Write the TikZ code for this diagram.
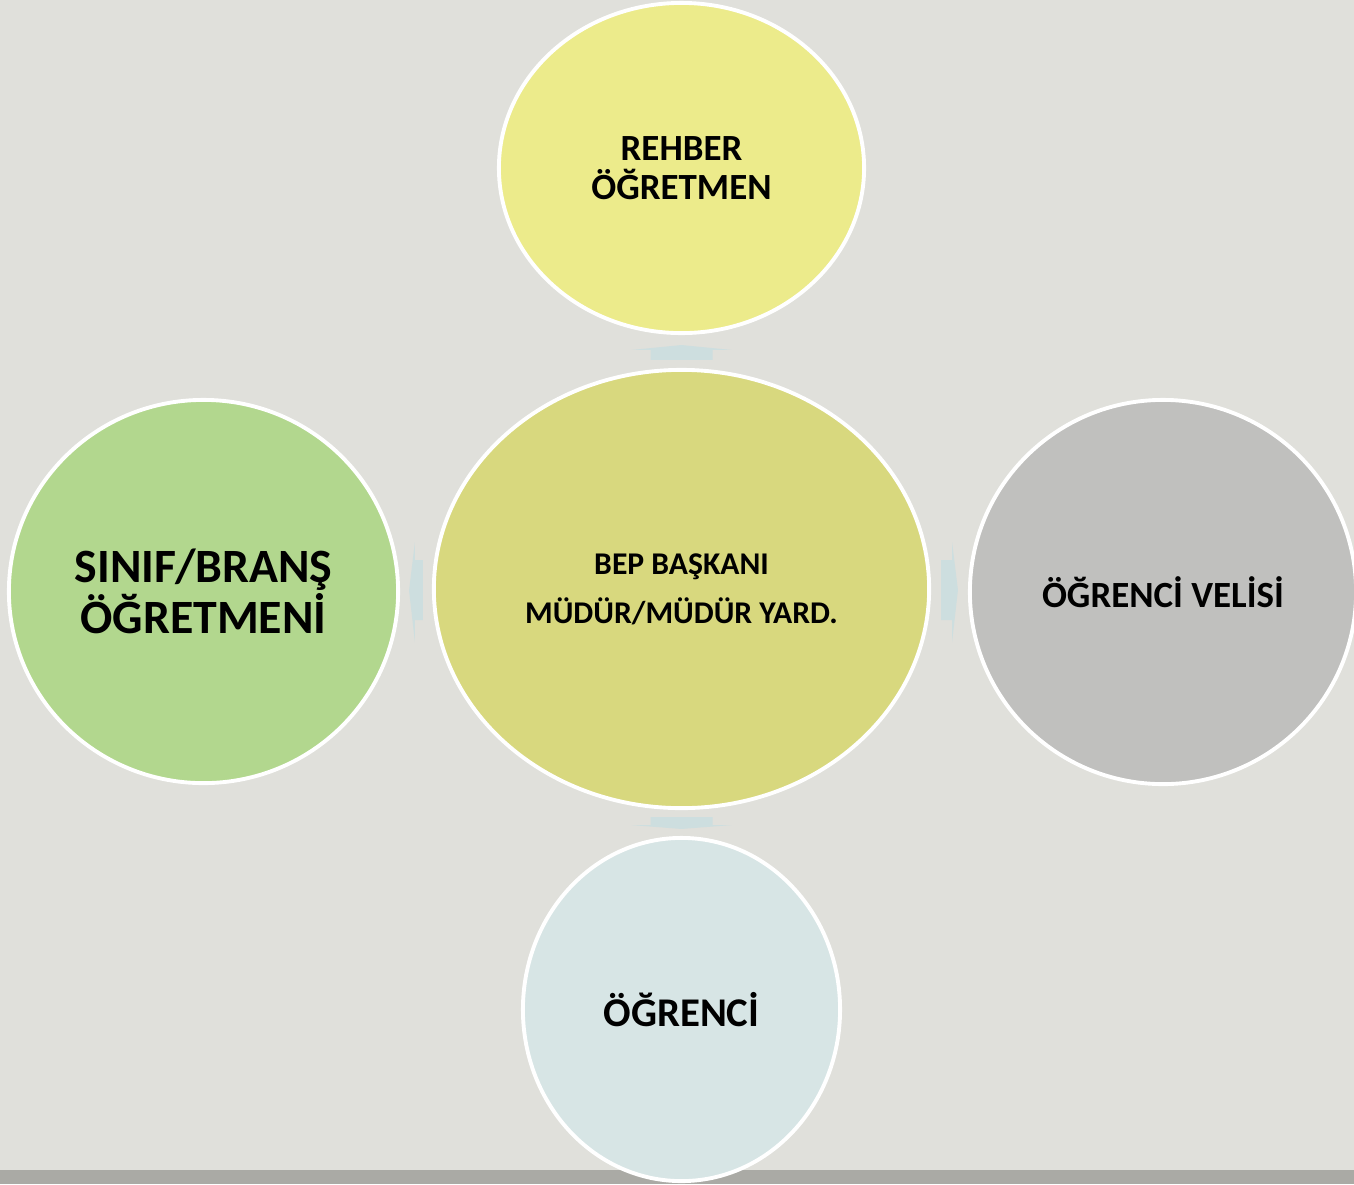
\documentclass[tikz,border=0pt]{standalone}
\usepackage{fontspec}
\setmainfont{Carlito}
\usepackage{tikz}
\usetikzlibrary{shapes.geometric,positioning,calc}
\definecolor{bgcol}{RGB}{224,224,219}
\definecolor{barcol}{RGB}{170,170,165}
\definecolor{rehbercol}{RGB}{236,235,139}
\definecolor{bepcol}{RGB}{216,216,126}
\definecolor{sinifcol}{RGB}{178,215,142}
\definecolor{velicol}{RGB}{192,192,190}
\definecolor{ogrencicol}{RGB}{215,229,229}
\definecolor{flowcol}{RGB}{205,222,223}

\begin{document}
\begin{tikzpicture}[x=0.01cm, y=-0.01cm]
	\tikzstyle{bubble} = [ellipse, inner sep=0pt, draw=white, line width=1.1pt, text centered, align=center]
	\tikzstyle{flow} = [fill=flowcol]
	% background
	\fill[bgcol] (0,0) rectangle (1354,1184);
	\fill[barcol] (0,1170) rectangle (1354,1184);
	\useasboundingbox (0,0) rectangle (1354,1184);
	% center
	\node (bep) at (681.5,589) [bubble, fill=bepcol, minimum width=4.95cm, minimum height=4.38cm,
		font=\bfseries\fontsize{9}{13.9}\selectfont] {BEP BAŞKANI\\MÜDÜR/MÜDÜR YARD.};
	% outer group
	\node (rehber) at (681.5,168) [bubble, fill=rehbercol, minimum width=3.65cm, minimum height=3.30cm,
		font=\bfseries\fontsize{10.5}{11.1}\selectfont] {REHBER\\ÖĞRETMEN};
	\node (sinif) at (203.5,591.5) [bubble, fill=sinifcol, minimum width=3.89cm, minimum height=3.83cm,
		font=\bfseries\fontsize{13.6}{13.1}\selectfont] {SINIF/BRANŞ\\ÖĞRETMENİ};
	\node (veli) at (1163,592) [bubble, fill=velicol, minimum width=3.86cm, minimum height=3.84cm,
		font=\bfseries\fontsize{10.5}{11}\selectfont] {ÖĞRENCİ VELİSİ};
	\node (ogrenci) at (681.5,1009.5) [bubble, fill=ogrencicol, minimum width=3.17cm, minimum height=3.43cm,
		font=\bfseries\fontsize{11.6}{12}\selectfont] {ÖĞRENCİ};
	% arrows
	\fill[flow] ($(bep.north)+(-31,-8)$) -- ++(0,-10) -- ++(-19,0) -- ($(rehber.south)+(0,10)$)
		-- ($(bep.north)+(50,-18)$) -- ++(-19,0) -- ++(0,10) -- cycle;
	\fill[flow] ($(bep.south)+(-31,7)$) -- ++(0,8) -- ++(-19,0) -- ($(ogrenci.north)+(0,-7)$)
		-- ($(bep.south)+(50,15)$) -- ++(-19,0) -- ++(0,-8) -- cycle;
	\fill[flow] ($(bep.west)+(-9,-29)$) -- ++(-8,0) -- ++(0,-18) -- ($(sinif.east)+(9,-1)$)
		-- ($(bep.west)+(-17,53)$) -- ++(0,-22) -- ++(8,0) -- cycle;
	\fill[flow] ($(bep.east)+(10,-29)$) -- ++(11,0) -- ++(0,-18) -- ($(veli.west)+(-10,-2)$)
		-- ($(bep.east)+(21,53)$) -- ++(0,-22) -- ++(-11,0) -- cycle;
\end{tikzpicture}
\end{document}
